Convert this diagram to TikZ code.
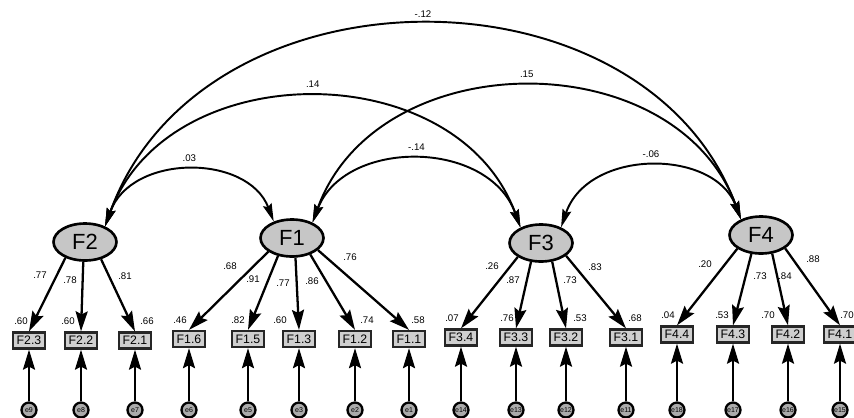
\documentclass[tikz,border=0pt]{standalone}
\usepackage{fontspec}
\setmainfont{Liberation Sans}
\usepackage{tikz}
\usetikzlibrary{arrows.meta,shapes.geometric}
\definecolor{lgrey}{HTML}{C6C6C6}
\definecolor{bgrey}{HTML}{CFCFCF}
\definecolor{egrey}{HTML}{ABABAB}
\tikzset{
  lat/.style={ellipse,draw=black,line width=1.5pt,fill=lgrey,minimum width=1.26cm,minimum height=0.74cm,
              inner sep=0pt,font=\fontsize{12.5}{13}\selectfont},
  obs/.style={rectangle,draw=black!85,line width=1.3pt,fill=bgrey,minimum width=0.63cm,minimum height=0.32cm,
              inner sep=0pt,font=\fontsize{7}{7}\selectfont},
  err/.style={circle,draw=black,line width=1.3pt,fill=egrey,minimum size=0.3cm,inner sep=0pt,
              font=\fontsize{4}{4}\selectfont},
  load/.style={-{Stealth[length=4mm,width=2.4mm,inset=0.6mm]},line width=1.3pt},
  cov/.style={{Stealth[length=3.6mm,width=1.8mm,inset=0.5mm]}-{Stealth[length=3.6mm,width=1.8mm,inset=0.5mm]},line width=1.1pt},
  val/.style={font=\fontsize{5.5}{6}\selectfont,inner sep=0pt},
}

\begin{document}
\begin{tikzpicture}[x=0.02cm,y=0.02cm]
\useasboundingbox (0,0) rectangle (854,417);
\node[lat] (F2) at (85,175) {F2};
\node[lat] (F1) at (292,179) {F1};
\node[lat] (F3) at (541,174) {F3};
\node[lat] (F4) at (761,182) {F4};
\foreach \nm/\tx/\x/\y/\lat/\sa/\ld/\lx/\ly/\rsq/\rx/\en in {
  i23/F2.3/29/76.5/F2/-141/.77/40/142/.60/21/e9,
  i22/F2.2/81/76.5/F2/-95/.78/70/137/.60/68/e8,
  i21/F2.1/135/76.5/F2/-47/.81/125/141/.66/147/e7,
  i16/F1.6/189/78/F1/-150/.68/230/151/.46/180/e6,
  i15/F1.5/248/78/F1/-128/.91/253/138/.82/238/e5,
  i13/F1.3/299/78/F1/-80/.77/283/134/.60/280/e3,
  i12/F1.2/355/78/F1/-42/.86/312/136/.74/367/e2,
  i11/F1.1/409/78/F1/-25/.76/350/160/.58/418/e1,
  i34/F3.4/461/79.5/F3/-149/.26/492/151/.07/452/e14,
  i33/F3.3/516/79.5/F3/-118/.87/513/137/.76/507/e13,
  i32/F3.2/566/79.5/F3/-59/.73/570/137/.53/580/e12,
  i31/F3.1/626/79.5/F3/-27/.83/595/150/.68/635/e11,
  i44/F4.4/677/82.5/F4/-150/.20/705/153/.04/668/e18,
  i43/F4.3/733/82.5/F4/-117/.73/760/141/.53/722/e17,
  i42/F4.2/788/82.5/F4/-59/.84/785/141/.70/768/e16,
  i41/F4.1/840/82.5/F4/-29/.88/813/158/.70/847/e15}{
  \node[obs] (\nm) at (\x,\y) {\tx};
  \node[err] (e\nm) at (\x,7) {\en};
  \draw[load] (\lat.\sa) -- (\nm.north);
  \draw[load] (e\nm) -- (\nm);
  \node[val] (l\nm) at (\lx,\ly) {\ld};
  \node[val] (r\nm) at (\rx,\y+19) {\rsq};}
\draw[cov] (F2.38) .. controls +(96,267) and +(-96,260) .. (F4.142) node[val,midway,above=4pt] (c24) {-.12};
\draw[cov] (F2.38) .. controls +(63,172) and +(-63,173) .. (F3.143) node[val,midway,above=5pt] (c23) {.14};
\draw[cov] (F1.37) .. controls +(65,180) and +(-65,177) .. (F4.142) node[val,midway,above=5pt] (c14) {.15};
\draw[cov] (F1.37) .. controls +(32,84) and +(-32,89) .. (F3.143) node[val,midway,above=5pt] (c13) {-.14};
\draw[cov] (F2.38) .. controls +(26,73) and +(-26,68) .. (F1.138) node[val,midway,above=5pt] (c21) {.03};
\draw[cov] (F3.38) .. controls +(27,79) and +(-27,71) .. (F4.142) node[val,midway,above=5pt] (c34) {-.06};
\end{tikzpicture}
\end{document}
